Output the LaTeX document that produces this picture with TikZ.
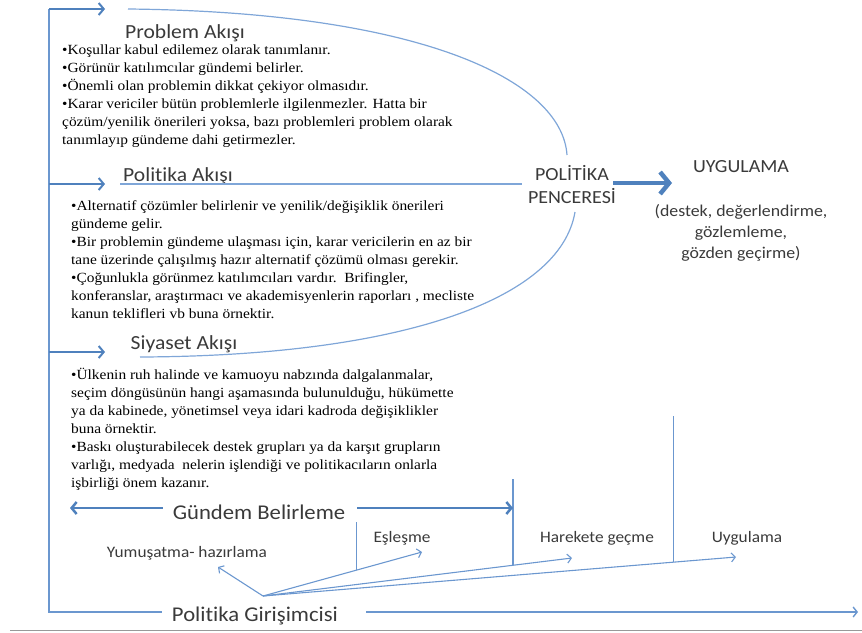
\documentclass[tikz,border=0pt]{standalone}
\usepackage{fontspec}
\setmainfont{Liberation Serif}[FakeStretch=1.1]
\setsansfont{Carlito}[FakeStretch=1.08,Ligatures=NoCommon]
\usetikzlibrary{arrows.meta,calc}
\definecolor{accent}{HTML}{4F81BD}
\definecolor{thinblue}{HTML}{6B97CF}
\definecolor{ovalblue}{HTML}{7FA6D8}
\definecolor{labelgray}{HTML}{3A3A3A}
\newcommand\flowtitle{\sffamily\fontsize{20}{24}\selectfont}
\newcommand\bodytext{\rmfamily\fontsize{14}{18}\selectfont}
\newcommand\stagefont{\sffamily\fontsize{16}{20}\selectfont}
\tikzset{
  frameline/.style={draw=thinblue, line width=1.4pt},
  flowarrow/.style={draw=accent, line width=2pt, -{Straight Barb[length=5pt,width=12pt]}},
  bigarrow/.style={draw=accent, line width=4.5pt, -{Straight Barb[length=9pt,width=22pt]}},
  ovalline/.style={draw=ovalblue, line width=1.2pt},
  fanarrow/.style={draw=thinblue, line width=1.1pt, -{Straight Barb[length=4pt,width=9pt]}},
  divider/.style={draw=thinblue, line width=1.2pt},
  titlebox/.style={font=\flowtitle, text=labelgray, inner sep=0pt, anchor=base},
  bulletbox/.style={font=\bodytext, align=left, inner sep=0pt, anchor=north west},
  stagebox/.style={font=\stagefont, text=labelgray, inner sep=0pt, anchor=base},
  mainlabel/.style={font=\sffamily\fontsize{21}{25}\selectfont, text=labelgray, inner sep=0pt, anchor=base}
}
\begin{document}
\begin{tikzpicture}[x=1pt,y=-1pt]
\useasboundingbox (0,0) rectangle (862,632);

\coordinate (cTL) at (49,9);
\coordinate (cML) at (49,184);
\coordinate (cSL) at (49,352);
\coordinate (cBL) at (49,612);
\coordinate (aTop) at (105,9);
\coordinate (aMid) at (105,184);
\coordinate (aSiy) at (105,352);

\node[titlebox] (probAk) at (185,38) {Problem Akışı};
\node[titlebox] (polAk) at (178,181) {Politika Akışı};
\node[titlebox] (siyAk) at (184,349) {Siyaset Akışı};

\node[bulletbox] (probTxt) at (62,45) {•Koşullar kabul edilemez olarak tanımlanır.\\
•Görünür katılımcılar gündemi belirler.\\
•Önemli olan problemin dikkat çekiyor olmasıdır.\\
•Karar vericiler bütün problemlerle ilgilenmezler. Hatta bir\\
çözüm/yenilik önerileri yoksa, bazı problemleri problem olarak\\
tanımlayıp gündeme dahi getirmezler.};
\node[bulletbox] (polTxt) at (71,200) {•Alternatif çözümler belirlenir ve yenilik/değişiklik önerileri\\
gündeme gelir.\\
•Bir problemin gündeme ulaşması için, karar vericilerin en az bir\\
tane üzerinde çalışılmış hazır alternatif çözümü olması gerekir.\\
•Çoğunlukla görünmez katılımcıları vardır.\ \ Brifingler,\\
konferanslar, araştırmacı ve akademisyenlerin raporları , mecliste\\
kanun teklifleri vb buna örnektir.};
\node[bulletbox] (siyTxt) at (71,368) {•Ülkenin ruh halinde ve kamuoyu nabzında dalgalanmalar,\\
seçim döngüsünün hangi aşamasında bulunulduğu, hükümette\\
ya da kabinede, yönetimsel veya idari kadroda değişiklikler\\
buna örnektir.\\
•Baskı oluşturabilecek destek grupları ya da karşıt grupların\\
varlığı, medyada\ \ nelerin işlendiği ve politikacıların onlarla\\
işbirliği önem kazanır.};

\node[font=\sffamily\fontsize{18.5}{23}\selectfont, text=labelgray, align=center, inner sep=0pt, anchor=north] (pencere) at (572,165) {POLİTİKA\\PENCERESİ};
\node[font=\sffamily\fontsize{18.5}{23}\selectfont, text=labelgray, inner sep=0pt, anchor=base] (uygTitle) at (741,172) {UYGULAMA};
\node[font=\sffamily\fontsize{16.5}{21}\selectfont, text=labelgray, align=center, inner sep=0pt, anchor=north] (uygNote) at (741,204) {(destek, değerlendirme,\\gözlemleme,\\gözden geçirme)};

% oval
\draw[ovalline] (128,9) .. controls (420,12) and (562,80) .. (567,155);
\draw[ovalline] (575,212) .. controls (560,300) and (400,356) .. (140,357);
\draw[ovalline] (120,184) -- (522,184);

\coordinate (bigS) at (613,183);
\coordinate (bigE) at (672,183);
\draw[bigarrow] (bigS) -- (bigE);

% frame
\node[mainlabel] (girisimci) at (255,621) {Politika Girişimcisi};
\coordinate (gEnd) at (858,612);
\draw[frameline] ($(girisimci.west |- cBL)+(-10,0)$) -- (cBL) -- (cTL);
\draw[frameline, -{Straight Barb[length=4pt,width=10pt]}] ($(girisimci.east |- gEnd)+(28,0)$) -- (gEnd);
\draw[flowarrow] (cTL) -- (aTop);
\draw[flowarrow] (cML) -- (aMid);
\draw[flowarrow] (cSL) -- (aSiy);

% stages
\coordinate (fan) at (263,596);
\coordinate (tYum) at (218,567);
\coordinate (tEsl) at (422,552);
\coordinate (tHar) at (572,558);
\coordinate (tUyg) at (736,557);
\foreach \t in {tYum,tEsl,tHar,tUyg}
  \draw[fanarrow] (fan) -- (\t);

\coordinate (d1) at ($(fan)!0.59!(tEsl)$);
\coordinate (d2) at ($(fan)!0.809!(tHar)$);
\coordinate (d3) at ($(fan)!0.867!(tUyg)$);
\draw[divider] (d1) -- (d1 |- 0,522);
\draw[divider] (d2) -- (d2 |- 0,479);
\draw[divider] (d3) -- (d3 |- 0,416);

\node[mainlabel] (gundem) at (259,519) {Gündem Belirleme};
\coordinate (gbL) at (70,508);
\coordinate (gbR) at (d2 |- gbL);
\draw[flowarrow, line width=2.5pt] ($(gundem.west |- gbL)+(-10,0)$) -- (gbL);
\draw[flowarrow, line width=2.5pt] ($(gundem.east |- gbR)+(12,0)$) -- (gbR);

\node[stagebox] (yumusatma) at (187,557) {Yumuşatma- hazırlama};
\node[stagebox] (eslesme) at (402,542) {Eşleşme};
\node[stagebox] (harekete) at (597,542) {Harekete geçme};
\node[stagebox] (uygulama) at (747,542) {Uygulama};

\draw[draw=black!40, line width=1.5pt] (10,630.5) -- (862,630.5);
\end{tikzpicture}
\end{document}
